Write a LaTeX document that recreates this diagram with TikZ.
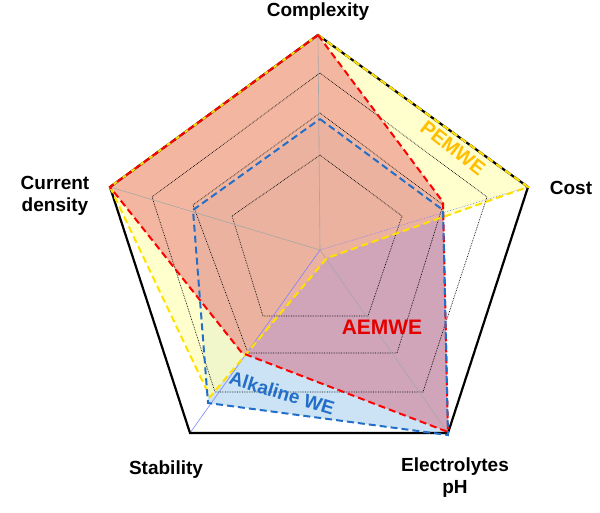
\documentclass[tikz,border=0pt]{standalone}
\usepackage{fontspec}
\setmainfont{Liberation Sans}
\definecolor{yfill}{RGB}{255,255,190}
\definecolor{bfill}{RGB}{185,218,240}
\definecolor{rfill}{RGB}{220,40,70}
\definecolor{yline}{RGB}{255,225,0}
\definecolor{bline}{RGB}{35,110,200}
\definecolor{ptext}{RGB}{255,190,0}
\begin{document}
\begin{tikzpicture}[x=1pt,y=-1pt,
  lab/.style={font=\fontsize{19}{22}\selectfont\bfseries,align=center},
  grid/.style={densely dotted,black,line width=0.7pt},
  axis/.style={gray!70,line width=0.6pt},
  ser/.style={line width=2pt,dash pattern=on 7pt off 4pt}]
\useasboundingbox (0,0) rectangle (600,512);
\coordinate (C) at (320,250);
\coordinate (T) at (318,35); \coordinate (R) at (528,187);
\coordinate (BR) at (448,433); \coordinate (BL) at (190,433); \coordinate (L) at (110,187);
% fills
\fill[bfill,opacity=0.75] (320,119) -- (443,210) -- (448,435) -- (208,403) -- (193,210) -- cycle;
\fill[yfill,opacity=0.75] (T) -- (R) -- (327,258) -- (210,397) -- (L) -- cycle;
\fill[rfill,opacity=0.33] (T) -- (443,202) -- (448,432) -- (242,353) -- (L) -- cycle;
% grid
\draw[grid] (320,155) -- (402,216) -- (368,316) -- (263,316) -- (232,216) -- cycle;
\draw[grid] (320,113) -- (443,205) -- (397,353) -- (248,353) -- (193,205) -- cycle;
\draw[grid] (320,73) -- (487,197) -- (423,392) -- (215,392) -- (152,197) -- cycle;
% axes
\draw[axis] (C) -- (T); \draw[axis] (C) -- (L); \draw[axis] (C) -- (BR);
\draw[axis,blue!50] (C) -- (BL); \draw[axis,blue!50,densely dotted] (C) -- (R);
% outer
\draw[black,line width=2.2pt] (T) -- (R) -- (BR) -- (BL) -- (L) -- cycle;
% series
\draw[yline,ser] (T) -- (R) -- (327,258) -- (210,397) -- (L) -- cycle;
\draw[red,ser] (T) -- (443,202) -- (448,432) -- (242,353) -- (L) -- cycle;
\draw[bline,ser] (320,119) -- (443,210) -- (448,435) -- (208,403) -- (193,210) -- cycle;
% labels
\node[lab] (lc) at (318,12) {Complexity};
\node[lab] (lcost) at (571,188) {Cost};
\node[lab] (lcd) at (55,196) {Current\\density};
\node[lab] (ls) at (166,470) {Stability};
\node[lab] (le) at (455,478) {Electrolytes\\pH};
\node[lab,text=ptext,rotate=-38,font=\fontsize{20}{22}\selectfont\bfseries] (lp) at (453,148) {PEMWE};
\node[lab,text=red!90!black,font=\fontsize{21}{22}\selectfont\bfseries] (la) at (382,327) {AEMWE};
\node[lab,text=bline,rotate=-17,font=\fontsize{19}{22}\selectfont\bfseries] (lw) at (282,393) {Alkaline WE};
\end{tikzpicture}
\end{document}
